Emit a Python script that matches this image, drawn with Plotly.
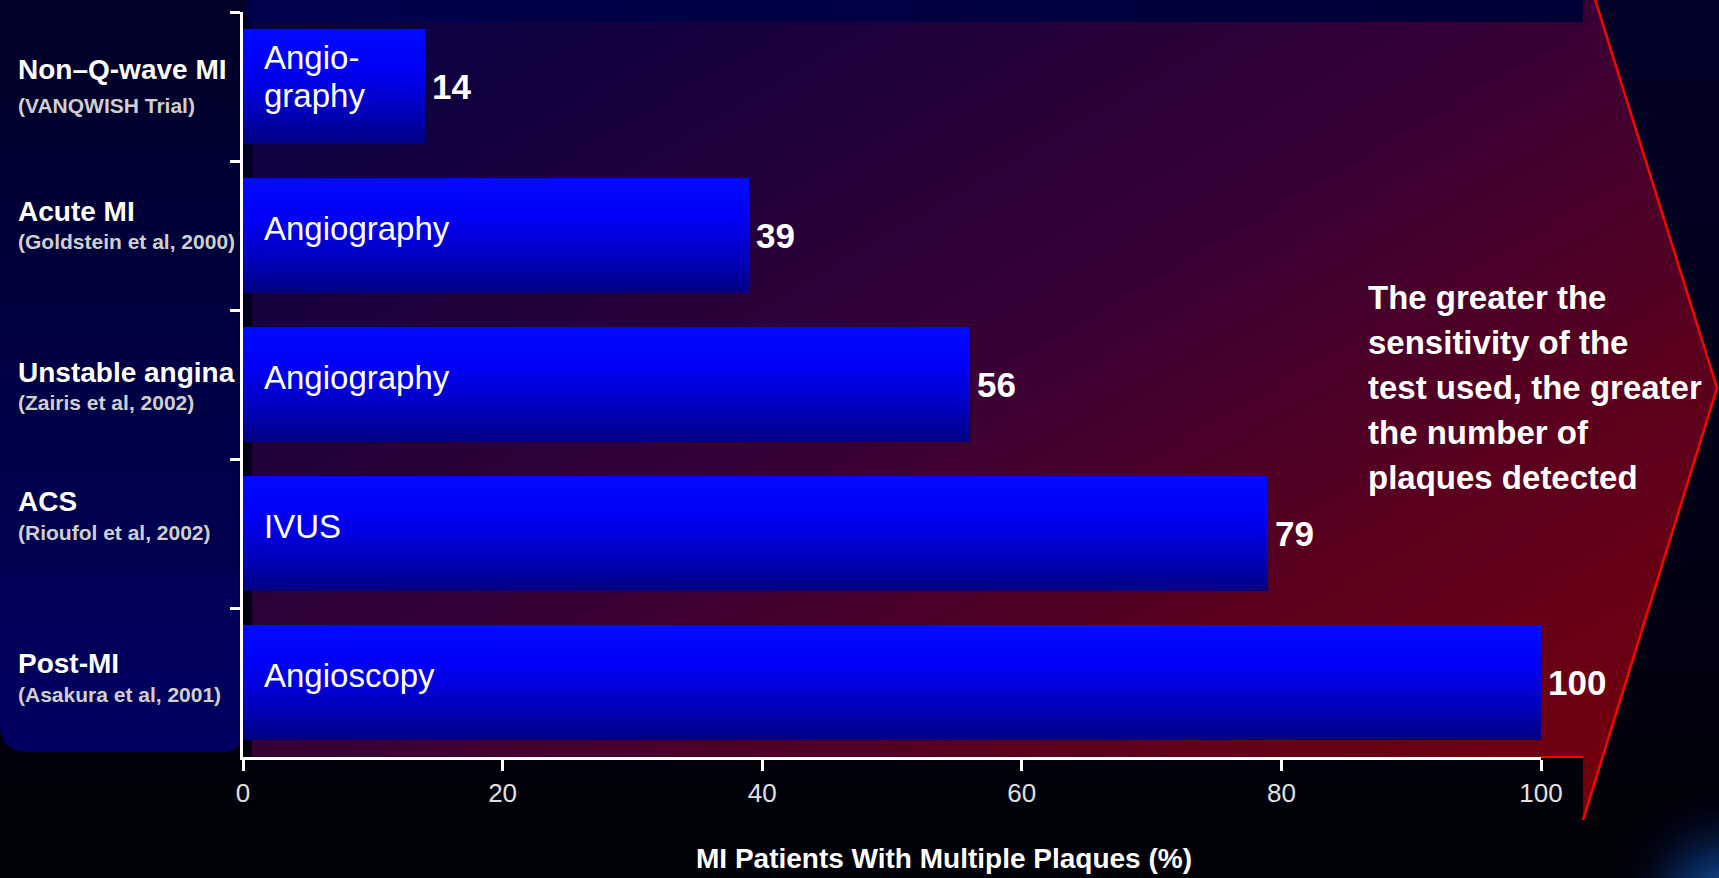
import base64
import plotly.graph_objects as go

# ---- data ---------------------------------------------------------------
categories = ["Non–Q-wave MI", "Acute MI", "Unstable angina", "ACS", "Post-MI"]
studies = ["(VANQWISH Trial)", "(Goldstein et al, 2000)", "(Zairis et al, 2002)",
           "(Rioufol et al, 2002)", "(Asakura et al, 2001)"]
methods = ["Angio-\ngraphy", "Angiography", "Angiography", "IVUS", "Angioscopy"]
values = [14, 39, 56, 79, 100]
x_ticks = [0, 20, 40, 60, 80, 100]
axis_title = "MI Patients With Multiple Plaques (%)"
note_lines = ["The greater the", "sensitivity of the", "test used, the greater",
              "the number of", "plaques detected"]

# ---- canvas geometry (pixels) -------------------------------------------
W, H = 1719, 878
L, R, T, B = 243, 1541, 12, 757


def px(x):
    return (x - L) / (R - L)


def py(y):
    return (B - y) / (B - T)


FONT = "Liberation Sans, Arial, sans-serif"

# ---- decorative backdrop: dark slide, label panel, gradient arrow --------
svg = f'''<svg xmlns="http://www.w3.org/2000/svg" width="{W}" height="{H}" viewBox="0 0 {W} {H}">
<defs>
 <linearGradient id="bg" x1="0" y1="0" x2="0" y2="1">
  <stop offset="0" stop-color="#000028"/><stop offset="1" stop-color="#000008"/>
 </linearGradient>
 <linearGradient id="panel" x1="0" y1="0" x2="0" y2="1">
  <stop offset="0" stop-color="#000022"/><stop offset="1" stop-color="#000062"/>
 </linearGradient>
 <linearGradient id="arrow" x1="0" y1="0" x2="1" y2="1">
  <stop offset="0" stop-color="#080048"/>
  <stop offset="0.15" stop-color="#10003e"/>
  <stop offset="0.47" stop-color="#360036"/>
  <stop offset="0.72" stop-color="#5a001e"/>
  <stop offset="0.9" stop-color="#6e0010"/>
  <stop offset="1" stop-color="#780008"/>
 </linearGradient>
 <linearGradient id="band" x1="0" y1="0" x2="1" y2="0">
  <stop offset="0" stop-color="#00004e"/><stop offset="1" stop-color="#000036"/>
 </linearGradient>
 <radialGradient id="glow" gradientUnits="userSpaceOnUse" cx="1730" cy="910" r="120">
  <stop offset="0" stop-color="#2a80e0" stop-opacity="0.9"/>
  <stop offset="0.5" stop-color="#0a4090" stop-opacity="0.5"/>
  <stop offset="1" stop-color="#000010" stop-opacity="0"/>
 </radialGradient>
</defs>
<rect width="{W}" height="{H}" fill="url(#bg)"/>
<path d="M0,-40 H243 V730 Q243,752 221,752 H28 Q0,752 0,724 Z" fill="url(#panel)"/>
<path d="M252,22 H1583 V-39 L1717,388 L1583,820 V757 H252 Z" fill="url(#arrow)"/>
<rect x="247" y="-10" width="1336" height="32" fill="url(#band)"/>
<polyline points="1583,-39 1717,388 1583,820" fill="none" stroke="#ff0000" stroke-width="2.5"/>
<line x1="1541" y1="757" x2="1583" y2="757" stroke="#ff0000" stroke-width="2"/>
<rect x="1500" y="700" width="219" height="178" fill="url(#glow)"/>
</svg>'''
svg_uri = "data:image/svg+xml;base64," + base64.b64encode(svg.encode()).decode()

fig = go.Figure()

# ---- bars: solid base plus thin horizontal strips for the vertical shading ----
BAR_W = 0.77
N_STRIPS = 32
shade = [(0.0, (0, 10, 255)), (0.35, (0, 0, 245)), (0.7, (0, 0, 190)), (1.0, (0, 0, 128))]


def shade_at(t):
    for (t0, c0), (t1, c1) in zip(shade[:-1], shade[1:]):
        if t <= t1:
            f = (t - t0) / (t1 - t0)
            return "rgb(%d,%d,%d)" % tuple(round(a + (b - a) * f) for a, b in zip(c0, c1))
    return "rgb(%d,%d,%d)" % shade[-1][1]


fig.add_bar(x=values, y=categories, orientation="h", width=BAR_W,
            marker=dict(color=shade_at(0.6), line_width=0),
            hoverinfo="skip", showlegend=False)
for k in range(N_STRIPS):
    fig.add_bar(x=values, y=categories, orientation="h",
                width=BAR_W / N_STRIPS, offset=-BAR_W / 2 + k * BAR_W / N_STRIPS,
                marker=dict(color=shade_at((k + 0.5) / N_STRIPS), line_width=0),
                hoverinfo="skip", showlegend=False)

annotations = []

# category names and study references in the left panel
main_shift = [17, 24, 12, 32, 19]
sub_shift = [-19, -6, -18, 1, -12]
for cat, study, ms, ss in zip(categories, studies, main_shift, sub_shift):
    annotations.append(dict(x=px(16), xref="paper", y=cat, yref="y", yshift=ms,
                            text=cat, showarrow=False, xanchor="left", yanchor="middle",
                            font=dict(family=FONT, size=28, color="white", weight="bold")))
    annotations.append(dict(x=px(16), xref="paper", y=cat, yref="y", yshift=ss,
                            text=study, showarrow=False, xanchor="left", yanchor="middle",
                            font=dict(family=FONT, size=21, color="#cfcfcf", weight="bold")))

# imaging method written inside each bar
for cat, method in zip(categories, methods):
    lines = method.split("\n")
    shifts = [7] if len(lines) == 1 else [29, -9]
    for line, s in zip(lines, shifts):
        annotations.append(dict(x=0, xref="x", xshift=19, y=cat, yref="y", yshift=s,
                                text=line, showarrow=False, xanchor="left", yanchor="middle",
                                font=dict(family=FONT, size=33, color="white")))

# value at the end of each bar
for cat, v in zip(categories, values):
    annotations.append(dict(x=v, xref="x", xshift=5, y=cat, yref="y",
                            text=str(v), showarrow=False, xanchor="left", yanchor="middle",
                            font=dict(family=FONT, size=35, color="white", weight="bold")))

# message inside the arrow
for i, line in enumerate(note_lines):
    annotations.append(dict(x=px(1366), xref="paper", y=py(297 + 45 * i), yref="paper",
                            text=line, showarrow=False, xanchor="left", yanchor="middle",
                            font=dict(family=FONT, size=33, color="white", weight="bold")))

# x-axis title
annotations.append(dict(x=px(944), xref="paper", y=py(858), yref="paper",
                        text=axis_title, showarrow=False, xanchor="center", yanchor="middle",
                        font=dict(family=FONT, size=28, color="white", weight="bold")))

fig.update_layout(
    width=W, height=H,
    margin=dict(l=L, r=W - R, t=T, b=H - B, pad=0),
    paper_bgcolor="#000010",
    plot_bgcolor="rgba(0,0,0,0)",
    barmode="overlay",
    bargap=0,
    showlegend=False,
    annotations=annotations,
    images=[dict(source=svg_uri, xref="paper", yref="paper",
                 x=px(0), y=py(0), sizex=W / (R - L), sizey=H / (B - T),
                 xanchor="left", yanchor="top", sizing="stretch", layer="below")],
    xaxis=dict(range=[0, 100], tickvals=x_ticks, ticks="outside", ticklen=11,
               tickwidth=3, tickcolor="white", showline=True, linecolor="white",
               linewidth=3, showgrid=False, zeroline=False,
               tickfont=dict(family=FONT, size=26, color="#e0e0e0")),
    yaxis=dict(type="category", categoryorder="array", categoryarray=categories,
               range=[4.5, -0.5], ticks="outside", tickson="boundaries", ticklen=10,
               tickwidth=3, tickcolor="white", showline=True, linecolor="white",
               linewidth=3, showgrid=False, zeroline=False, showticklabels=False),
)

fig.write_html("out.html")
